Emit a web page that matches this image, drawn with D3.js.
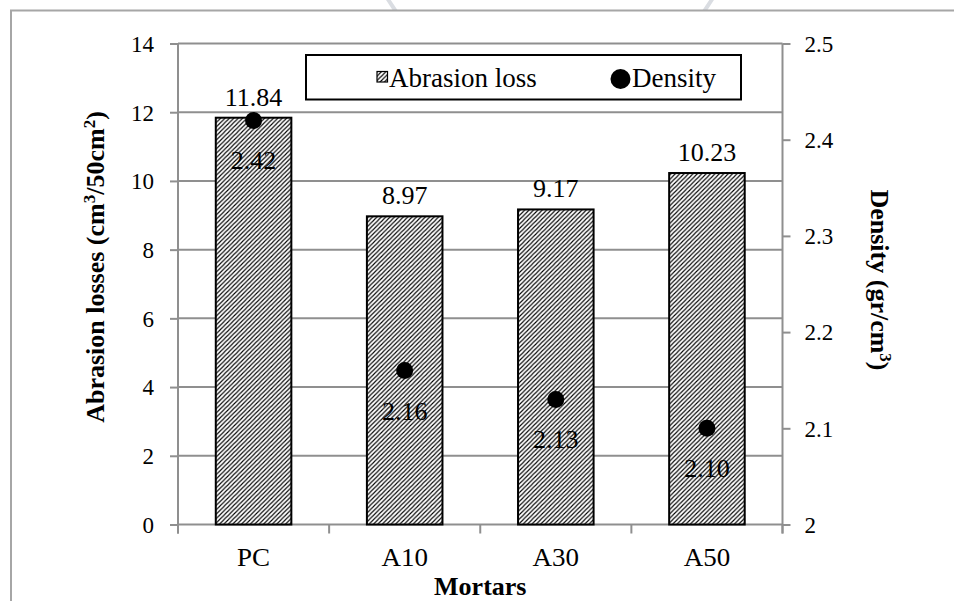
<!DOCTYPE html>
<html>
<head>
<meta charset="utf-8">
<script src="https://cdn.jsdelivr.net/npm/d3@7"></script>
<style>
  body { margin: 0; background: #fff; }
  svg { display: block; }
  text { font-family: "Liberation Serif", "Times New Roman", serif; fill: #000; }
</style>
</head>
<body>
<svg id="chart"></svg>
<script>
// data
const mortars = ["PC", "A10", "A30", "A50"];
const abrasion = [11.84, 8.97, 9.17, 10.23];
const density = [2.42, 2.16, 2.13, 2.10];
const leftTicks = [0, 2, 4, 6, 8, 10, 12, 14];
const rightTicks = [2, 2.1, 2.2, 2.3, 2.4, 2.5];

const W = 954, H = 601;
const plot = { left: 178, right: 782.5, top: 43.5, bottom: 524.5 };
const gridColor = "#8f8f8f";

const svg = d3.select("#chart").attr("width", W).attr("height", H);

// faint watermark peeking above the frame
svg.append("circle")
  .attr("cx", 550).attr("cy", -100).attr("r", 190)
  .attr("fill", "none").attr("stroke", "#dadde2").attr("stroke-width", 4);

// outer frame of the chart
svg.append("rect")
  .attr("x", 11).attr("y", 10.5).attr("width", W).attr("height", H)
  .attr("fill", "#fff").attr("stroke", "#a6a6a6").attr("stroke-width", 2);

// hatch pattern for the bars
const defs = svg.append("defs");
const pat = defs.append("pattern")
  .attr("id", "hatch").attr("patternUnits", "userSpaceOnUse")
  .attr("width", 4.4).attr("height", 4.4);
pat.append("rect").attr("width", 4.4).attr("height", 4.4).attr("fill", "#fff");
pat.append("path")
  .attr("d", "M-1.1,1.1 L1.1,-1.1 M0,4.4 L4.4,0 M3.3,5.5 L5.5,3.3")
  .attr("stroke", "#000").attr("stroke-width", 1.1);

const x = d3.scaleBand().domain(mortars)
  .range([plot.left, plot.right]).paddingInner(0.5).paddingOuter(0.25);
const y = d3.scaleLinear().domain([0, 14]).range([plot.bottom, plot.top]);
const y2 = d3.scaleLinear().domain([2, 2.5]).range([plot.bottom, plot.top]);

// gridlines
svg.append("g").selectAll("line")
  .data(leftTicks)
  .join("line")
    .attr("x1", plot.left).attr("x2", plot.right)
    .attr("y1", d => y(d)).attr("y2", d => y(d))
    .attr("stroke", gridColor).attr("stroke-width", 2);

// left axis
const gl = svg.append("g")
  .attr("transform", `translate(${plot.left},0)`)
  .call(d3.axisLeft(y).tickValues(leftTicks).tickSize(8).tickSizeOuter(0).tickPadding(16))
  .attr("font-family", null).attr("font-size", null);
gl.select(".domain").remove();
gl.selectAll(".tick line").attr("stroke", gridColor).attr("stroke-width", 2);
gl.selectAll(".tick text").style("font-size", "23px").attr("dy", "0.34em");
gl.append("line")
  .attr("x1", 0).attr("x2", 0).attr("y1", plot.top).attr("y2", plot.bottom + 9)
  .attr("stroke", gridColor).attr("stroke-width", 2);

// right axis
const gr = svg.append("g")
  .attr("transform", `translate(${plot.right},0)`)
  .call(d3.axisRight(y2).tickValues(rightTicks).tickSize(8).tickSizeOuter(0).tickPadding(14)
    .tickFormat(d => String(+d.toFixed(1))))
  .attr("font-family", null).attr("font-size", null);
gr.select(".domain").remove();
gr.selectAll(".tick line").attr("stroke", gridColor).attr("stroke-width", 2);
gr.selectAll(".tick text").style("font-size", "23px").attr("dy", "0.34em");
gr.append("line")
  .attr("x1", 0).attr("x2", 0).attr("y1", plot.top).attr("y2", plot.bottom + 9)
  .attr("stroke", gridColor).attr("stroke-width", 2);

// bottom axis with ticks between the categories
const bounds = mortars.map(m => x(m) - x.step() * 0.25).concat([plot.right]);
svg.append("g").selectAll("line")
  .data(bounds)
  .join("line")
    .attr("x1", d => d).attr("x2", d => d)
    .attr("y1", plot.bottom).attr("y2", plot.bottom + 9)
    .attr("stroke", gridColor).attr("stroke-width", 2);
// category names are a little wider than the font, so stretch them
svg.append("g").selectAll("text")
  .data(mortars)
  .join("text")
    .attr("transform", d => `translate(${x(d) + x.bandwidth() / 2},566) scale(1.08,1)`)
    .attr("text-anchor", "middle")
    .style("font-size", "25px")
    .text(d => d);

// bars
svg.append("g").selectAll("rect")
  .data(abrasion)
  .join("rect")
    .attr("x", (d, i) => x(mortars[i]))
    .attr("y", d => y(d))
    .attr("width", x.bandwidth())
    .attr("height", d => y(0) - y(d))
    .attr("fill", "url(#hatch)")
    .attr("stroke", "#000").attr("stroke-width", 2);

// bar labels
svg.append("g").selectAll("text")
  .data(abrasion)
  .join("text")
    .attr("x", (d, i) => x(mortars[i]) + x.bandwidth() / 2)
    .attr("y", d => y(d) - 12)
    .attr("text-anchor", "middle")
    .style("font-size", "26px")
    .text(d => d.toFixed(2));

// density points
svg.append("g").selectAll("circle")
  .data(density)
  .join("circle")
    .attr("cx", (d, i) => x(mortars[i]) + x.bandwidth() / 2)
    .attr("cy", d => y2(d))
    .attr("r", 8.5)
    .attr("fill", "#000");

svg.append("g").selectAll("text")
  .data(density)
  .join("text")
    .attr("x", (d, i) => x(mortars[i]) + x.bandwidth() / 2)
    .attr("y", d => y2(d) + 49)
    .attr("text-anchor", "middle")
    .style("font-size", "26px")
    .text(d => d.toFixed(2));

// axis titles
const lt = svg.append("text")
  .attr("transform", "translate(104,267) rotate(-90)")
  .attr("text-anchor", "middle")
  .style("font-size", "26px").style("font-weight", "bold");
lt.append("tspan").text("Abrasion losses (cm");
lt.append("tspan").attr("baseline-shift", "super").style("font-size", "17px").text("3");
lt.append("tspan").text("/50cm");
lt.append("tspan").attr("baseline-shift", "super").style("font-size", "17px").text("2");
lt.append("tspan").text(")");

const rt = svg.append("text")
  .attr("transform", "translate(871,280) rotate(90)")
  .attr("text-anchor", "middle")
  .style("font-size", "26px").style("font-weight", "bold");
rt.append("tspan").text("Density (gr/cm");
rt.append("tspan").attr("baseline-shift", "super").style("font-size", "17px").text("3");
rt.append("tspan").text(")");

svg.append("text")
  .attr("x", (plot.left + plot.right) / 2).attr("y", 595)
  .attr("text-anchor", "middle")
  .style("font-size", "26px").style("font-weight", "bold")
  .text("Mortars");

// legend
const lg = svg.append("g");
lg.append("rect")
  .attr("x", 306).attr("y", 55).attr("width", 435).attr("height", 44.5)
  .attr("fill", "#fff").attr("stroke", "#000").attr("stroke-width", 2);
lg.append("rect")
  .attr("x", 377).attr("y", 71.5).attr("width", 10.5).attr("height", 10.5)
  .attr("fill", "url(#hatch)").attr("stroke", "#000").attr("stroke-width", 1.2);
lg.append("text").attr("x", 389).attr("y", 86.5).style("font-size", "27px").text("Abrasion loss");
lg.append("circle").attr("cx", 620.5).attr("cy", 79).attr("r", 10).attr("fill", "#000");
lg.append("text").attr("x", 632).attr("y", 86.5).style("font-size", "27px").text("Density");
</script>
</body>
</html>
